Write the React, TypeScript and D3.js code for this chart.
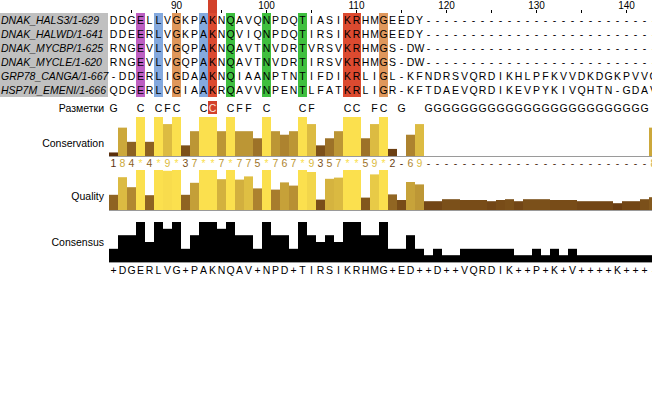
import React from 'react';
import * as d3 from 'd3';

// alignment window: columns 83..143
const firstPosition = 83;
const columnCount = 61;

const sequenceNames = [
  'DNAK_HALS3/1-629',
  'DNAK_HALWD/1-641',
  'DNAK_MYCBP/1-625',
  'DNAK_MYCLE/1-620',
  'GRP78_CANGA/1-667',
  'HSP7M_EMENI/1-666',
];

const sequences = [
  'DDGELLVGKPAKNQAVQNPDQTIASIKRHMGEEDY--------------------------',
  'DDEERLVGKPAKNQVIQNPDQTIRSIKRHMGEEDY--------------------------',
  'RNGEVLVGQPAKNQAVTNVDRTVRSVKRHMGS-DW--------------------------',
  'RNGEVLVGQPAKNQAVTNVDRTIRSVKRHMGS-DW--------------------------',
  '-DDERLIGDAAKNQIAANPTNTIFDIKRLIGL-KFNDRSVQRDIKHLPFKVVDKDGKPVVQ',
  'QDGERLVGIAAKRQAVVNPENTLFATKRLIGR-KFTDAEVQRDIKEVPYKIVQHTN-GDAV',
];

// clustal colouring by column
const purpleColumns = [3];
const blueColumns = [5, 10];
const orangeColumns = [7, 30];
const redColumns = [11, 26, 27];
const greenColumns = [13, 17, 21];
const selectedColumn = 11;

const rulerTicks = [85, 90, 95, 100, 105, 110, 115, 120, 125, 130, 135, 140];
const rulerLabels = [90, 100, 110, 120, 130, 140];

const markupLabel = 'Разметки';
const markup = 'G  C CFC  CC CFF C   CF   CC FC G  GGGGGGGGGGGGGGGGGGGGGGGGG ';

const conservation = '184*4*9*37**7*775*767*9357**59*2-69-------------------------8';

const quality = [
  38, 82, 57, 100, 37, 100, 98, 100, 38, 68,
  100, 100, 77, 100, 76, 84, 54, 100, 51, 69,
  61, 100, 95, 26, 78, 81, 100, 100, 31, 89,
  100, 39, 25, 70, 64, 22, 22, 27, 27, 25,
  25, 25, 22, 25, 27, 22, 27, 27, 27, 25,
  25, 25, 22, 22, 22, 22, 17, 22, 22, 27,
  32,
];

const consensus = [
  33, 67, 67, 100, 50, 100, 83, 100, 33, 67,
  100, 100, 83, 100, 67, 67, 33, 100, 67, 67,
  33, 100, 67, 50, 67, 50, 100, 100, 67, 67,
  100, 33, 33, 67, 33, 17, 33, 17, 17, 33,
  33, 33, 33, 33, 33, 17, 17, 33, 17, 33,
  17, 33, 17, 17, 17, 17, 17, 17, 17, 17,
  17,
];
const consensusText = '+DGERLVG+PAKNQAV+NPD+TIRSIKRHMG+ED++D++VQRDIK++P+K+V++++K+++-';

const annotationLabels = ['Conservation', 'Quality', 'Consensus'];

const font = '"Liberation Sans", Arial, sans-serif';

export default function App() {
  const width = 652;
  const height = 397;

  const x = d3
    .scaleBand<number>()
    .domain(d3.range(columnCount))
    .range([109, 109 + columnCount * 9]);
  const cw = x.bandwidth();
  const posX = (p: number) => (x(p - firstPosition) as number) + cw / 2;

  const row = d3
    .scaleBand<number>()
    .domain(d3.range(sequences.length))
    .range([13, 97]);

  const colourFor = d3
    .scaleLinear<string>()
    .domain([0, 0.5, 1])
    .range(['#4a1e04', '#a57a2c', '#fbe04e'])
    .clamp(true);

  // conservation: 0..11 where * = 11
  const consValue = (c: string) => (c === '*' ? 11 : c === '-' ? 0 : +c);
  const yCons = d3.scaleLinear().domain([0, 11]).range([156, 117]);
  const yQual = d3.scaleLinear().domain([0, 100]).range([210, 170]);
  const yConsensus = d3.scaleLinear().domain([0, 100]).range([262, 222]);

  const columnColours: [number[], string][] = [
    [purpleColumns, '#bd5fc2'],
    [blueColumns, '#84a9de'],
    [orangeColumns, '#df975b'],
    [redColumns, '#dc4a30'],
    [greenColumns, '#3fbf3f'],
  ];

  const cols = (s: string) => s.split('').slice(0, columnCount);

  return (
    <div style={{ position: 'absolute', left: 0, top: 0 }}>
      <svg width={width} height={height} style={{ display: 'block', background: '#fff' }}>
        {/* sequence id panel */}
        <rect x={0} y={13} width={108} height={84} fill="#c0c0c0" />
        {sequenceNames.map((n, i) => (
          <text
            key={n}
            x={1}
            y={(row(i) as number) + 11}
            fontFamily={font}
            fontStyle="italic"
            fontSize={10.5}
            fill="#000"
          >
            {n}
          </text>
        ))}

        {/* ruler */}
        <rect x={x(selectedColumn)} y={0} width={cw} height={13} fill="#d2412a" />
        {rulerTicks.map((p) => (
          <line
            key={p}
            x1={posX(p)}
            x2={posX(p)}
            y1={10}
            y2={13}
            stroke="#000"
            strokeWidth={1}
            shapeRendering="crispEdges"
          />
        ))}
        {rulerLabels.map((p) => (
          <text
            key={p}
            x={posX(p)}
            y={9}
            textAnchor="middle"
            fontFamily={font}
            fontSize={10}
            fill="#000"
          >
            {p}
          </text>
        ))}

        {/* column colours */}
        {columnColours.map(([cs, colour]) =>
          cs.map((c) => (
            <rect key={colour + c} x={x(c)} y={13} width={cw} height={84} fill={colour} />
          ))
        )}

        {/* residues */}
        {sequences.map((s, i) =>
          cols(s).map((ch, c) => (
            <text
              key={i + '-' + c}
              x={(x(c) as number) + cw / 2}
              y={(row(i) as number) + 11}
              textAnchor="middle"
              fontFamily={font}
              fontSize={10.5}
              fill="#000"
            >
              {ch}
            </text>
          ))
        )}

        {/* annotation labels */}
        <text x={104} y={112} textAnchor="end" fontFamily={font} fontSize={10.5} fill="#000">
          {markupLabel}
        </text>
        {annotationLabels.map((l, i) => (
          <text
            key={l}
            x={104}
            y={[147, 200, 246][i]}
            textAnchor="end"
            fontFamily={font}
            fontSize={10.5}
            fill="#000"
          >
            {l}
          </text>
        ))}

        {/* markup row */}
        <rect x={x(selectedColumn)} y={101} width={cw} height={13} fill="#d2412a" />
        {cols(markup).map((ch, c) =>
          ch === ' ' ? null : (
            <text
              key={'m' + c}
              x={(x(c) as number) + cw / 2}
              y={112}
              textAnchor="middle"
              fontFamily={font}
              fontSize={10.5}
              fill={c === selectedColumn ? '#fbe3dc' : '#000'}
            >
              {ch}
            </text>
          )
        )}

        {/* conservation */}
        {cols(conservation).map((ch, c) => {
          const v = consValue(ch);
          return v > 0 ? (
            <rect
              key={'cb' + c}
              x={x(c)}
              y={yCons(v)}
              width={cw}
              height={yCons(0) - yCons(v)}
              fill={colourFor(v / 11)}
            />
          ) : null;
        })}
        <line x1={109} x2={652} y1={156.5} y2={156.5} stroke="#9a9a9a" />
        {cols(conservation).map((ch, c) => (
          <text
            key={'ct' + c}
            x={(x(c) as number) + cw / 2}
            y={167}
            textAnchor="middle"
            fontFamily={font}
            fontSize={10.5}
            fill={ch === '-' ? '#4a2c10' : colourFor(consValue(ch) / 11)}
          >
            {ch}
          </text>
        ))}

        {/* quality */}
        {quality.map((q, c) => (
          <rect
            key={'q' + c}
            x={x(c)}
            y={yQual(q)}
            width={cw}
            height={yQual(0) - yQual(q)}
            fill={colourFor(q / 100)}
          />
        ))}
        <line x1={109} x2={652} y1={210.5} y2={210.5} stroke="#9a9a9a" />

        {/* consensus */}
        {consensus.map((p, c) => (
          <rect
            key={'k' + c}
            x={x(c)}
            y={yConsensus(p)}
            width={cw}
            height={yConsensus(0) - yConsensus(p)}
            fill="#000"
          />
        ))}
        <line x1={109} x2={652} y1={262.5} y2={262.5} stroke="#9a9a9a" />
        {cols(consensusText).map((ch, c) => (
          <text
            key={'kt' + c}
            x={(x(c) as number) + cw / 2}
            y={274}
            textAnchor="middle"
            fontFamily={font}
            fontSize={10.5}
            fill="#000"
          >
            {ch}
          </text>
        ))}
      </svg>
    </div>
  );
}
